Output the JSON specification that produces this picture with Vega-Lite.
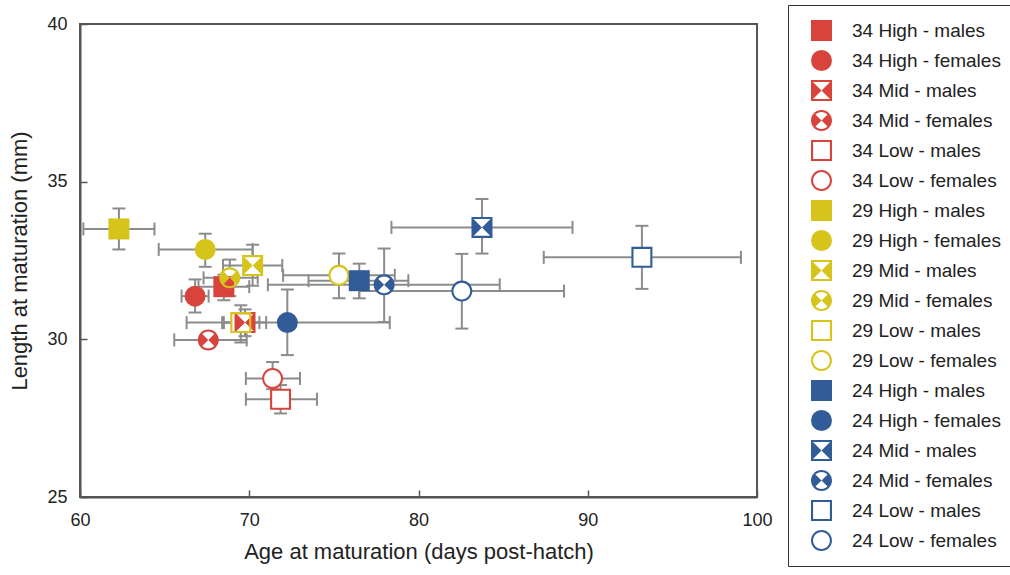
{
  "$schema": "https://vega.github.io/schema/vega-lite/v6.json",
  "width": 677,
  "height": 473,
  "autosize": {"type": "none"},
  "padding": {"left": 80, "top": 24, "right": 253, "bottom": 78},
  "background": "white",
  "config": {
    "font": "Liberation Sans",
    "view": {"stroke": "#555555", "strokeWidth": 2},
    "axis": {
      "grid": false,
      "domainColor": "#555555",
      "domainWidth": 2,
      "tickColor": "#555555",
      "tickWidth": 1.5,
      "tickSize": -7,
      "labelFlush": false,
      "labelFont": "Liberation Sans",
      "labelFontSize": 18,
      "labelColor": "#222222",
      "titleFont": "Liberation Sans",
      "titleFontSize": 22,
      "titleFontWeight": "normal",
      "titleColor": "#222222"
    }
  },
  "data": {
    "values": [
      {"label": "34 High - males", "temp": 34, "food": "High", "sex": "males", "x": 68.5, "xlo": 67.0, "xhi": 70.0, "y": 31.67, "ylo": 31.24, "yhi": 32.05},
      {"label": "34 High - females", "temp": 34, "food": "High", "sex": "females", "x": 66.8, "xlo": 66.0, "xhi": 67.6, "y": 31.37, "ylo": 30.85, "yhi": 31.9},
      {"label": "34 Mid - males", "temp": 34, "food": "Mid", "sex": "males", "x": 69.75, "xlo": 68.4, "xhi": 71.0, "y": 30.53, "ylo": 30.1, "yhi": 30.95},
      {"label": "34 Mid - females", "temp": 34, "food": "Mid", "sex": "females", "x": 67.58, "xlo": 65.57, "xhi": 69.85, "y": 29.98, "ylo": 29.75, "yhi": 30.2},
      {"label": "34 Low - males", "temp": 34, "food": "Low", "sex": "males", "x": 71.85, "xlo": 69.8, "xhi": 74.0, "y": 28.1, "ylo": 27.65, "yhi": 28.55},
      {"label": "34 Low - females", "temp": 34, "food": "Low", "sex": "females", "x": 71.38, "xlo": 69.8, "xhi": 73.0, "y": 28.76, "ylo": 28.42, "yhi": 29.28},
      {"label": "29 High - males", "temp": 29, "food": "High", "sex": "males", "x": 62.3, "xlo": 60.2, "xhi": 64.4, "y": 33.5, "ylo": 32.85, "yhi": 34.15},
      {"label": "29 High - females", "temp": 29, "food": "High", "sex": "females", "x": 67.4, "xlo": 64.65, "xhi": 70.2, "y": 32.85, "ylo": 32.3, "yhi": 33.35},
      {"label": "29 Mid - males", "temp": 29, "food": "Mid", "sex": "males", "x": 70.2, "xlo": 68.45, "xhi": 71.95, "y": 32.34, "ylo": 31.7, "yhi": 33.0},
      {"label": "29 Mid - females", "temp": 29, "food": "Mid", "sex": "females", "x": 68.85, "xlo": 67.3, "xhi": 70.5, "y": 31.95, "ylo": 31.37, "yhi": 32.53},
      {"label": "29 Low - males", "temp": 29, "food": "Low", "sex": "males", "x": 69.5, "xlo": 68.5, "xhi": 70.6, "y": 30.53, "ylo": 29.9, "yhi": 31.08},
      {"label": "29 Low - females", "temp": 29, "food": "Low", "sex": "females", "x": 75.3, "xlo": 72.0, "xhi": 78.6, "y": 32.03, "ylo": 31.3, "yhi": 32.72},
      {"label": "24 High - males", "temp": 24, "food": "High", "sex": "males", "x": 76.5, "xlo": 73.5, "xhi": 79.4, "y": 31.86, "ylo": 31.3, "yhi": 32.4},
      {"label": "24 High - females", "temp": 24, "food": "High", "sex": "females", "x": 72.25, "xlo": 66.3, "xhi": 78.3, "y": 30.53, "ylo": 29.5, "yhi": 31.58},
      {"label": "24 Mid - males", "temp": 24, "food": "Mid", "sex": "males", "x": 83.75, "xlo": 78.4, "xhi": 89.1, "y": 33.55, "ylo": 32.72, "yhi": 34.45},
      {"label": "24 Mid - females", "temp": 24, "food": "Mid", "sex": "females", "x": 77.97, "xlo": 71.1, "xhi": 84.8, "y": 31.73, "ylo": 30.55, "yhi": 32.88},
      {"label": "24 Low - males", "temp": 24, "food": "Low", "sex": "males", "x": 93.2, "xlo": 87.4, "xhi": 99.05, "y": 32.6, "ylo": 31.6, "yhi": 33.6},
      {"label": "24 Low - females", "temp": 24, "food": "Low", "sex": "females", "x": 82.56, "xlo": 76.5, "xhi": 88.6, "y": 31.53, "ylo": 30.34, "yhi": 32.71}
    ]
  },
  "layer": [
    {
      "mark": {"type": "rule", "color": "#8c8c8c", "strokeWidth": 2},
      "encoding": {
        "x": {"field": "xlo", "type": "quantitative", "title": "Age at maturation (days post-hatch)",
              "scale": {"domain": [60, 100], "nice": false, "zero": false},
              "axis": {"values": [60, 70, 80, 90, 100], "labelPadding": 21, "titlePadding": 12}},
        "x2": {"field": "xhi"},
        "y": {"field": "y", "type": "quantitative", "title": "Length at maturation (mm)",
              "scale": {"domain": [25, 40], "nice": false, "zero": false},
              "axis": {"values": [25, 30, 35, 40], "labelPadding": 20, "titleX": -61, "titleBaseline": "middle"}}
      }
    },
    {
      "mark": {"type": "rule", "color": "#8c8c8c", "strokeWidth": 2},
      "encoding": {
        "x": {"field": "x", "type": "quantitative", "title": "Age at maturation (days post-hatch)"},
        "y": {"field": "ylo", "type": "quantitative", "title": "Length at maturation (mm)"},
        "y2": {"field": "yhi"}
      }
    },
    {
      "mark": {"type": "tick", "orient": "vertical", "size": 13, "thickness": 2, "color": "#8c8c8c", "opacity": 1},
      "encoding": {
        "x": {"field": "xlo", "type": "quantitative", "title": "Age at maturation (days post-hatch)"},
        "y": {"field": "y", "type": "quantitative", "title": "Length at maturation (mm)"}
      }
    },
    {
      "mark": {"type": "tick", "orient": "vertical", "size": 13, "thickness": 2, "color": "#8c8c8c", "opacity": 1},
      "encoding": {
        "x": {"field": "xhi", "type": "quantitative", "title": "Age at maturation (days post-hatch)"},
        "y": {"field": "y", "type": "quantitative", "title": "Length at maturation (mm)"}
      }
    },
    {
      "mark": {"type": "tick", "orient": "horizontal", "size": 13, "thickness": 2, "color": "#8c8c8c", "opacity": 1},
      "encoding": {
        "x": {"field": "x", "type": "quantitative", "title": "Age at maturation (days post-hatch)"},
        "y": {"field": "ylo", "type": "quantitative", "title": "Length at maturation (mm)"}
      }
    },
    {
      "mark": {"type": "tick", "orient": "horizontal", "size": 13, "thickness": 2, "color": "#8c8c8c", "opacity": 1},
      "encoding": {
        "x": {"field": "x", "type": "quantitative", "title": "Age at maturation (days post-hatch)"},
        "y": {"field": "yhi", "type": "quantitative", "title": "Length at maturation (mm)"}
      }
    },
    {
      "transform": [{"filter": "datum.sex === 'males'"}],
      "mark": {"type": "point", "shape": "square", "filled": true, "fill": "white", "size": 400, "strokeWidth": 0, "opacity": 1},
      "encoding": {
        "x": {"field": "x", "type": "quantitative", "title": "Age at maturation (days post-hatch)"},
        "y": {"field": "y", "type": "quantitative", "title": "Length at maturation (mm)"}
      }
    },
    {
      "transform": [{"filter": "datum.sex === 'females'"}],
      "mark": {"type": "point", "shape": "circle", "filled": true, "fill": "white", "size": 400, "strokeWidth": 0, "opacity": 1},
      "encoding": {
        "x": {"field": "x", "type": "quantitative", "title": "Age at maturation (days post-hatch)"},
        "y": {"field": "y", "type": "quantitative", "title": "Length at maturation (mm)"}
      }
    },
    {
      "mark": {"type": "point", "filled": true, "size": 441, "strokeWidth": 0, "opacity": 1},
      "encoding": {
        "x": {"field": "x", "type": "quantitative", "title": "Age at maturation (days post-hatch)"},
        "y": {"field": "y", "type": "quantitative", "title": "Length at maturation (mm)"},
        "fill": {
          "field": "label", "type": "nominal",
          "scale": {
            "domain": ["34 High - males", "34 High - females", "34 Mid - males", "34 Mid - females", "34 Low - males", "34 Low - females", "29 High - males", "29 High - females", "29 Mid - males", "29 Mid - females", "29 Low - males", "29 Low - females", "24 High - males", "24 High - females", "24 Mid - males", "24 Mid - females", "24 Low - males", "24 Low - females"],
            "range": ["#d8433c", "#d8433c", "#d8433c", "#d8433c", "#d8433c", "#d8433c", "#d6c41b", "#d6c41b", "#d6c41b", "#d6c41b", "#d6c41b", "#d6c41b", "#315c98", "#315c98", "#315c98", "#315c98", "#315c98", "#315c98"]
          },
          "legend": {"title": null, "orient": "none", "legendX": 708, "legendY": -19, "strokeColor": "#333333", "fillColor": "white", "padding": 15, "symbolSize": 441, "symbolOffset": 8, "labelOffset": 20, "labelFontSize": 19, "labelFont": "Liberation Sans", "labelColor": "#222222", "rowPadding": 9, "symbolStrokeWidth": 0, "labelLimit": 400}
        },
        "shape": {
          "field": "label", "type": "nominal",
          "scale": {
            "domain": ["34 High - males", "34 High - females", "34 Mid - males", "34 Mid - females", "34 Low - males", "34 Low - females", "29 High - males", "29 High - females", "29 Mid - males", "29 Mid - females", "29 Low - males", "29 Low - females", "24 High - males", "24 High - females", "24 Mid - males", "24 Mid - females", "24 Low - males", "24 Low - females"],
            "range": [
              "M-1,-1H1V1H-1Z",
              "circle",
              "M-1,-1H1V1H-1Z M-0.8,-0.8V0.8H0.8V-0.8Z M0,0L1,-1L1,1Z M0,0L-1,1L-1,-1Z",
              "M1,0C1,0.5523 0.5523,1 0,1C-0.5523,1 -1,0.5523 -1,0C-1,-0.5523 -0.5523,-1 0,-1C0.5523,-1 1,-0.5523 1,0Z M0.8,0C0.8,-0.4418 0.4418,-0.8 0,-0.8C-0.4418,-0.8 -0.8,-0.4418 -0.8,0C-0.8,0.4418 -0.4418,0.8 0,0.8C0.4418,0.8 0.8,0.4418 0.8,0Z M0,0L0.601,-0.601C0.933,-0.269 0.933,0.269 0.601,0.601Z M0,0L-0.601,0.601C-0.933,0.269 -0.933,-0.269 -0.601,-0.601Z",
              "M-1,-1H1V1H-1Z M-0.8,-0.8V0.8H0.8V-0.8Z",
              "M1,0C1,0.5523 0.5523,1 0,1C-0.5523,1 -1,0.5523 -1,0C-1,-0.5523 -0.5523,-1 0,-1C0.5523,-1 1,-0.5523 1,0Z M0.8,0C0.8,-0.4418 0.4418,-0.8 0,-0.8C-0.4418,-0.8 -0.8,-0.4418 -0.8,0C-0.8,0.4418 -0.4418,0.8 0,0.8C0.4418,0.8 0.8,0.4418 0.8,0Z",
              "M-1,-1H1V1H-1Z",
              "circle",
              "M-1,-1H1V1H-1Z M-0.8,-0.8V0.8H0.8V-0.8Z M0,0L1,-1L1,1Z M0,0L-1,1L-1,-1Z",
              "M1,0C1,0.5523 0.5523,1 0,1C-0.5523,1 -1,0.5523 -1,0C-1,-0.5523 -0.5523,-1 0,-1C0.5523,-1 1,-0.5523 1,0Z M0.8,0C0.8,-0.4418 0.4418,-0.8 0,-0.8C-0.4418,-0.8 -0.8,-0.4418 -0.8,0C-0.8,0.4418 -0.4418,0.8 0,0.8C0.4418,0.8 0.8,0.4418 0.8,0Z M0,0L0.601,-0.601C0.933,-0.269 0.933,0.269 0.601,0.601Z M0,0L-0.601,0.601C-0.933,0.269 -0.933,-0.269 -0.601,-0.601Z",
              "M-1,-1H1V1H-1Z M-0.8,-0.8V0.8H0.8V-0.8Z",
              "M1,0C1,0.5523 0.5523,1 0,1C-0.5523,1 -1,0.5523 -1,0C-1,-0.5523 -0.5523,-1 0,-1C0.5523,-1 1,-0.5523 1,0Z M0.8,0C0.8,-0.4418 0.4418,-0.8 0,-0.8C-0.4418,-0.8 -0.8,-0.4418 -0.8,0C-0.8,0.4418 -0.4418,0.8 0,0.8C0.4418,0.8 0.8,0.4418 0.8,0Z",
              "M-1,-1H1V1H-1Z",
              "circle",
              "M-1,-1H1V1H-1Z M-0.8,-0.8V0.8H0.8V-0.8Z M0,0L1,-1L1,1Z M0,0L-1,1L-1,-1Z",
              "M1,0C1,0.5523 0.5523,1 0,1C-0.5523,1 -1,0.5523 -1,0C-1,-0.5523 -0.5523,-1 0,-1C0.5523,-1 1,-0.5523 1,0Z M0.8,0C0.8,-0.4418 0.4418,-0.8 0,-0.8C-0.4418,-0.8 -0.8,-0.4418 -0.8,0C-0.8,0.4418 -0.4418,0.8 0,0.8C0.4418,0.8 0.8,0.4418 0.8,0Z M0,0L0.601,-0.601C0.933,-0.269 0.933,0.269 0.601,0.601Z M0,0L-0.601,0.601C-0.933,0.269 -0.933,-0.269 -0.601,-0.601Z",
              "M-1,-1H1V1H-1Z M-0.8,-0.8V0.8H0.8V-0.8Z",
              "M1,0C1,0.5523 0.5523,1 0,1C-0.5523,1 -1,0.5523 -1,0C-1,-0.5523 -0.5523,-1 0,-1C0.5523,-1 1,-0.5523 1,0Z M0.8,0C0.8,-0.4418 0.4418,-0.8 0,-0.8C-0.4418,-0.8 -0.8,-0.4418 -0.8,0C-0.8,0.4418 -0.4418,0.8 0,0.8C0.4418,0.8 0.8,0.4418 0.8,0Z"
            ]
          },
          "legend": {"title": null, "orient": "none", "legendX": 708, "legendY": -19, "strokeColor": "#333333", "fillColor": "white", "padding": 15, "symbolSize": 441, "symbolOffset": 8, "labelOffset": 20, "labelFontSize": 19, "labelFont": "Liberation Sans", "labelColor": "#222222", "rowPadding": 9, "symbolStrokeWidth": 0, "labelLimit": 400}
        }
      }
    }
  ]
}
